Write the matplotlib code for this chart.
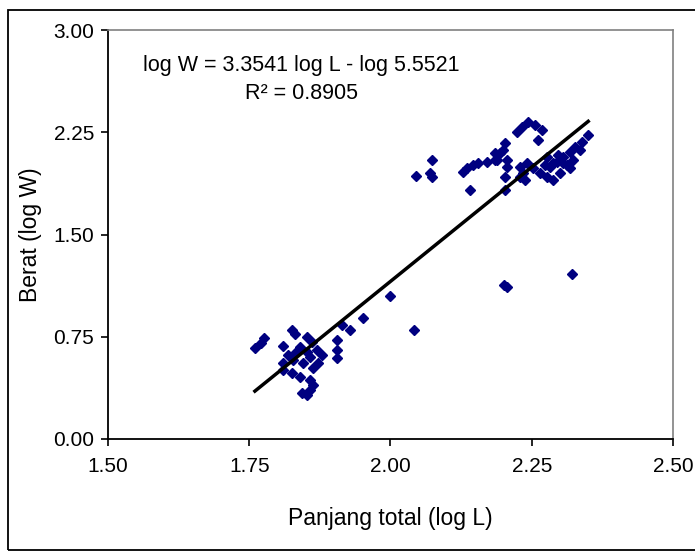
import numpy as np
import matplotlib.pyplot as plt
from matplotlib.patches import Rectangle

plt.rcParams['font.family'] = ['Liberation Sans', 'DejaVu Sans']

# log L (panjang total) and log W (berat)
log_L = [1.760, 1.771, 1.776, 1.810, 1.826, 1.831, 1.852, 1.861, 1.840, 1.870,
         1.879, 1.872, 1.863, 1.845, 1.827, 1.810, 1.810, 1.826, 1.840, 1.858,
         1.863, 1.858, 1.843, 1.852, 1.914, 1.928, 1.905, 1.905, 1.905, 1.951,
         1.999, 2.042, 1.852, 1.858, 1.833, 1.819,
         2.045, 2.073, 2.073, 2.070, 2.141, 2.128, 2.135, 2.146, 2.155, 2.171,
         2.185, 2.194, 2.203, 2.199, 2.185, 2.189, 2.206, 2.206, 2.203, 2.203,
         2.229, 2.229, 2.224, 2.233, 2.243, 2.256, 2.268, 2.261, 2.206, 2.201,
         2.321, 2.350, 2.339, 2.327, 2.318, 2.305, 2.295, 2.323, 2.318, 2.300,
         2.288, 2.277, 2.265, 2.252, 2.242, 2.282, 2.305, 2.277, 2.288, 2.335,
         2.312, 2.296, 2.273, 2.234, 2.238]
log_W = [0.667, 0.704, 0.741, 0.682, 0.800, 0.770, 0.748, 0.711, 0.675, 0.653,
         0.616, 0.557, 0.521, 0.557, 0.579, 0.557, 0.506, 0.484, 0.455, 0.433,
         0.396, 0.359, 0.337, 0.323, 0.836, 0.800, 0.726, 0.653, 0.594, 0.888,
         1.049, 0.800, 0.638, 0.601, 0.638, 0.616,
         1.929, 2.047, 1.922, 1.951, 1.826, 1.958, 1.988, 2.010, 2.024, 2.032,
         2.047, 2.098, 2.171, 2.120, 2.098, 2.047, 2.047, 1.995, 1.922, 1.826,
         1.995, 1.922, 2.252, 2.289, 2.325, 2.303, 2.267, 2.193, 1.115, 1.130,
         1.210, 2.230, 2.178, 2.142, 2.105, 2.068, 2.032, 2.047, 1.988, 1.951,
         1.900, 1.922, 1.951, 1.988, 2.024, 1.995, 2.024, 2.068, 2.024, 2.120,
         2.010, 2.083, 2.010, 1.951, 1.900]

# regression
slope = 3.3541
intercept = -5.5521
r2 = 0.8905

fig = plt.figure(figsize=(6.95, 5.54), dpi=100)
ax = fig.add_axes([0.1554, 0.2076, 0.8129, 0.7382])

ax.plot(log_L, log_W, linestyle='none', marker='D', markersize=5.4,
        color='#000080', markeredgecolor='#000080')

fx = np.array([min(log_L), max(log_L)])
ax.plot(fx, slope * fx + intercept, color='black', linewidth=2.5)

ax.set_xlim(1.5, 2.5)
ax.set_ylim(0, 3)
ax.set_xticks([1.5, 1.75, 2.0, 2.25, 2.5])
ax.set_yticks([0, 0.75, 1.5, 2.25, 3.0])
ax.set_xticklabels(['1.50', '1.75', '2.00', '2.25', '2.50'])
ax.set_yticklabels(['0.00', '0.75', '1.50', '2.25', '3.00'])
ax.tick_params(direction='out', length=5, width=1.2, labelsize=15, pad=5)
ax.tick_params(axis='x', pad=8)

for side in ['top', 'right']:
    ax.spines[side].set_color('#808080')
    ax.spines[side].set_linewidth(1.2)
for side in ['left', 'bottom']:
    ax.spines[side].set_linewidth(1.3)

ax.set_xlabel('Panjang total (log L)', fontsize=16.5, labelpad=22)
ax.set_ylabel('Berat (log W)', fontsize=16.5, labelpad=8)

ax.text(0.342, 0.914, 'log W = 3.3541 log L - log 5.5521', transform=ax.transAxes,
        ha='center', va='center', fontsize=15.5)
ax.text(0.342, 0.844, 'R² = %.4f' % r2, transform=ax.transAxes,
        ha='center', va='center', fontsize=15.5)

# outer chart border
fig.patches.append(Rectangle((8 / 695, 4 / 554), 1.2, 1 - 14 / 554,
                             transform=fig.transFigure, fill=False,
                             edgecolor='black', linewidth=1.3))

fig.savefig('out.png', dpi=100)
